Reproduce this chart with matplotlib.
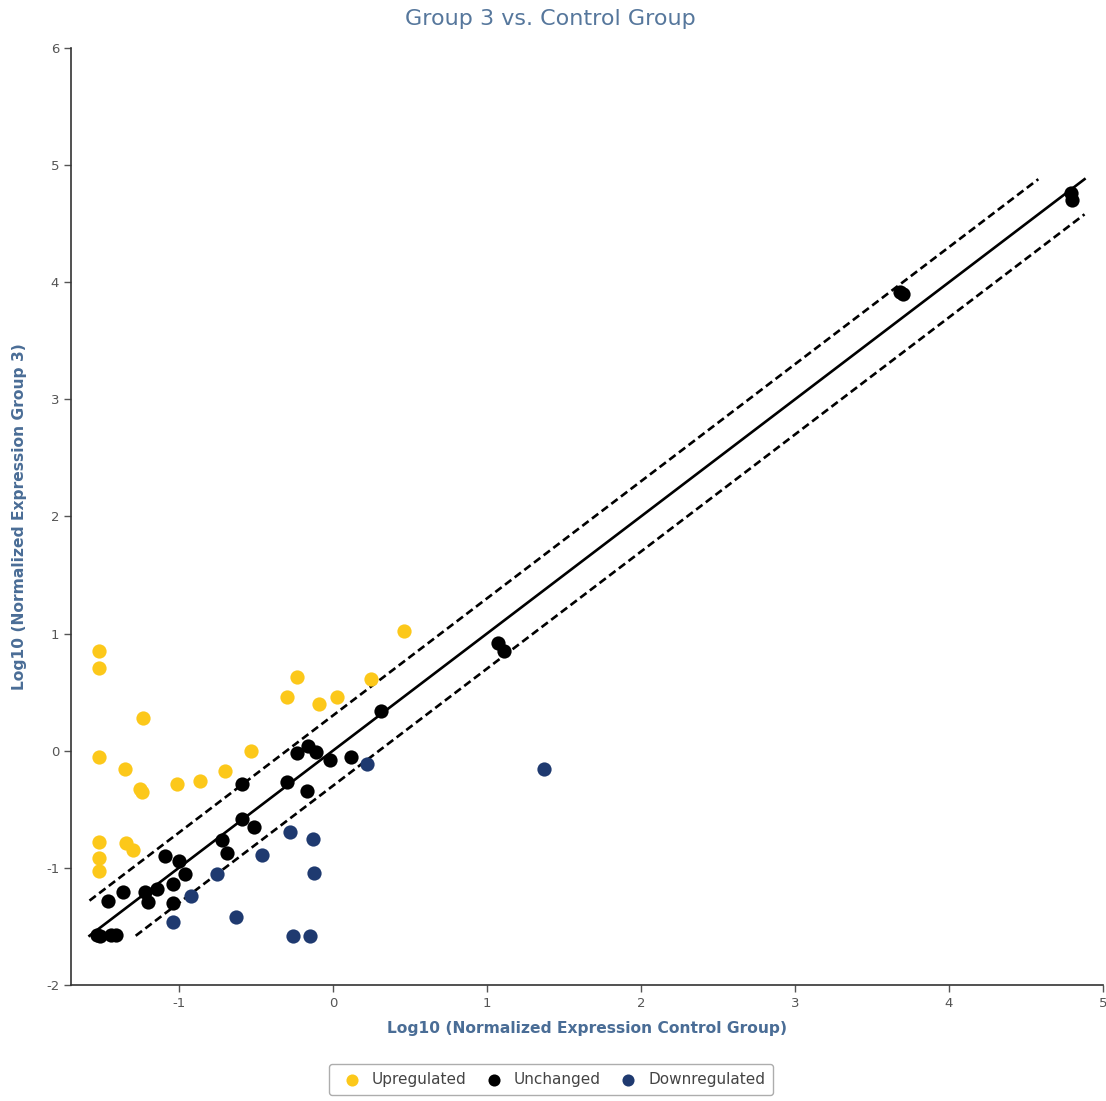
import numpy as np
import matplotlib.pyplot as plt

# expression values, log10 scale
up_x = [-1.52, -1.52, -1.23, -1.52, -1.35, -1.25, -1.24, -1.01, -0.86, -0.70, -0.53,
        -0.30, -0.23, -0.09, 0.03, 0.25, 0.46, -1.52, -1.52, -1.52, -1.34, -1.30]
up_y = [0.85, 0.71, 0.28, -0.05, -0.16, -0.33, -0.35, -0.28, -0.26, -0.17, 0.00,
        0.46, 0.63, 0.40, 0.46, 0.61, 1.02, -0.78, -0.92, -1.03, -0.79, -0.85]

same_x = [-1.53, -1.51, -1.44, -1.41, -1.46, -1.36, -1.22, -1.20, -1.14, -1.04, -1.04,
          -1.09, -1.00, -0.96, -0.72, -0.69, -0.59, -0.51, -0.59, -0.30, -0.17, -0.23,
          -0.16, -0.11, -0.02, 0.12, 0.31, 1.07, 1.11, 3.68, 3.70, 4.79, 4.80]
same_y = [-1.57, -1.58, -1.57, -1.57, -1.28, -1.21, -1.21, -1.29, -1.18, -1.14, -1.30,
          -0.90, -0.94, -1.05, -0.76, -0.87, -0.58, -0.65, -0.28, -0.27, -0.34, -0.02,
          0.04, -0.01, -0.08, -0.05, 0.34, 0.92, 0.85, 3.92, 3.90, 4.76, 4.70]

down_x = [0.22, 1.37, -0.28, -0.13, -0.46, -0.12, -0.75, -0.92, -1.04, -0.63, -0.26, -0.15]
down_y = [-0.11, -0.16, -0.69, -0.75, -0.89, -1.04, -1.05, -1.24, -1.46, -1.42, -1.58, -1.58]

x_ticks = [-1, 0, 1, 2, 3, 4, 5]
y_ticks = [-2, -1, 0, 1, 2, 3, 4, 5, 6]

fold = 0.3
lo, hi = -1.58, 4.88

fig = plt.figure(figsize=(11.06, 11.01), dpi=100)
ax = fig.add_axes([0.0642, 0.1054, 0.9331, 0.851])

ax.scatter(up_x, up_y, s=105, color='#fcc81a', label='Upregulated', zorder=3, linewidths=0)
ax.scatter(same_x, same_y, s=105, color='#000000', label='Unchanged', zorder=3, linewidths=0)
ax.scatter(down_x, down_y, s=105, color='#1f3a70', label='Downregulated', zorder=3, linewidths=0)

# identity line and +/- fold threshold lines
ax.plot([lo, hi], [lo, hi], color='black', lw=1.9, zorder=2)
ax.plot([lo, hi - fold], [lo + fold, hi], color='black', lw=1.9, ls=(0, (3, 1.6)), zorder=2)
ax.plot([lo + fold, hi], [lo, hi - fold], color='black', lw=1.9, ls=(0, (3, 1.6)), zorder=2)

ax.set_xlim(-1.7, 5)
ax.set_ylim(-2, 6)
ax.set_xticks(x_ticks)
ax.set_yticks(y_ticks)
ax.set_xticklabels([str(v) for v in x_ticks])
ax.set_yticklabels([str(v) for v in y_ticks])

for s in ['top', 'right']:
    ax.spines[s].set_visible(False)
for s in ['left', 'bottom']:
    ax.spines[s].set_color('#333333')
    ax.spines[s].set_linewidth(1.2)
ax.tick_params(colors='#555555', labelsize=9.5, length=5, width=1)

label_color = '#4a6d96'
ax.set_xlabel('Log10 (Normalized Expression Control Group)', color=label_color,
              fontsize=11.2, fontweight='bold')
ax.set_ylabel('Log10 (Normalized Expression Group 3)', color=label_color,
              fontsize=11.2, fontweight='bold')
ax.xaxis.set_label_coords(0.5, -0.0385)
ax.yaxis.set_label_coords(-0.0426, 0.5)
fig.text(0.498, 0.983, 'Group 3 vs. Control Group', ha='center', va='center',
         fontsize=16, color='#56779c')

leg = fig.legend(loc='center', bbox_to_anchor=(0.498, 0.0195), ncol=3, fontsize=11,
                 frameon=True, handletextpad=0.3, columnspacing=0.8, markerscale=0.85,
                 borderpad=0.5, fancybox=True)
leg.get_frame().set_edgecolor('#999999')
leg.get_frame().set_linewidth(1)
for t in leg.get_texts():
    t.set_color('#444444')

fig.savefig('out.png', dpi=100)
